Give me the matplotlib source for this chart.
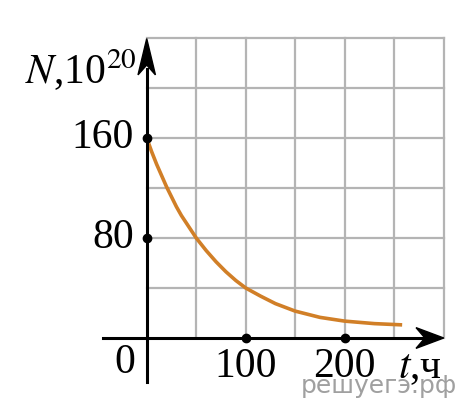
import matplotlib.pyplot as plt
from matplotlib.patches import Polygon

# curve (t in hours, N in units of 10^20)
t_vals = [0, 5, 10, 15, 20, 25, 30, 35, 40, 45, 50, 60, 70, 80, 90, 100,
          115, 130, 150, 175, 200, 230, 258]
n_vals = [160, 149, 139, 130, 121, 113, 105, 98, 92, 86, 80, 70, 61, 53, 46, 40,
          33.5, 27.5, 21.5, 16.5, 13.5, 11.5, 10.5]

x_grid = [0, 50, 100, 150, 200, 250, 300]
y_grid = [0, 40, 80, 120, 160, 200, 240]
x_ticks = [100, 200]
x_labels = ['100', '200']
y_ticks = [80, 160]
y_labels = ['80', '160']

serif = ['Liberation Serif', 'DejaVu Serif']

fig = plt.figure(figsize=(4.77, 4.15), dpi=100)
ax = fig.add_axes([0, 0, 1, 1])
ax.set_xlim(-148.2, 333.6)
ax.set_ylim(-61.6, 270.4)
ax.axis('off')

# grid
for gx in x_grid[1:]:
    ax.plot([gx, gx], [0, 240], color='#b4b4b4', lw=1.6, zorder=1)
for gy in y_grid[1:]:
    ax.plot([0, 300], [gy, gy], color='#b4b4b4', lw=1.6, zorder=1)

# axes lines
ax.plot([0, 0], [-35, 215], color='black', lw=2.2, zorder=3)
ax.plot([-44, 285], [0, 0], color='black', lw=2.2, zorder=3)

# arrow heads
ax.add_patch(Polygon([(0, 239.5), (-8.8, 210.5), (0, 218.4), (8.8, 210.5)],
                     closed=True, color='black', zorder=4))
ax.add_patch(Polygon([(300, 0), (272, 8.3), (281, 0), (272, -8.3)],
                     closed=True, color='black', zorder=4))

# curve
ax.plot(t_vals, n_vals, color='#d17f27', lw=2.6, zorder=2,
        solid_capstyle='butt', solid_joinstyle='round')

# tick dots
ax.plot([0] * len(y_ticks), y_ticks, 'o', color='black', ms=6, zorder=5)
ax.plot(x_ticks, [0] * len(x_ticks), 'o', color='black', ms=6, zorder=5)

fs = 30
for v, lab in zip(y_ticks, y_labels):
    ax.text(-13, v, lab, ha='right', va='center', fontsize=fs, family=serif)
for v, lab in zip(x_ticks, x_labels):
    ax.text(v, -23, lab, ha='center', va='center', fontsize=fs, family=serif)
ax.text(-12, -20, '0', ha='right', va='center', fontsize=fs, family=serif)

ax.text(-123, 214, r'$\mathit{N}$' + ',10$^{20}$', ha='left', va='center',
        fontsize=fs, family=serif, math_fontfamily='stix')
ax.text(254, -24, r'$\mathit{t}$' + ',ч', ha='left', va='center',
        fontsize=fs, family=serif, math_fontfamily='stix')

ax.text(313, -38, 'решуегэ.рф', ha='right', va='center', fontsize=18,
        color='#a0a0a0', family=['DejaVu Sans'], zorder=0)

fig.savefig('out.png', dpi=100)
